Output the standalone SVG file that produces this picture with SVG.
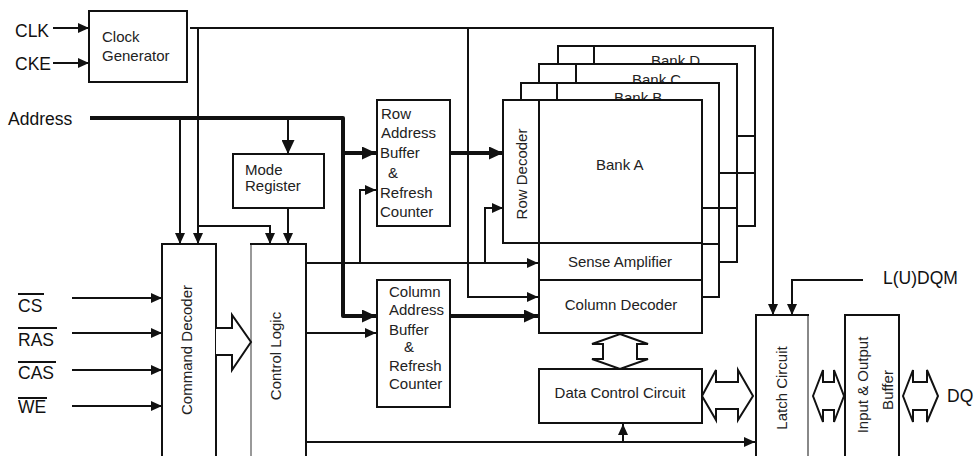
<svg xmlns="http://www.w3.org/2000/svg" width="977" height="456" viewBox="0 0 977 456">
<defs>
<style>
.box{fill:#fff;stroke:#111;stroke-width:2}
.ln{fill:none;stroke:#111;stroke-width:2}
.thk{fill:none;stroke:#111;stroke-width:4;stroke-linejoin:round}
.hol{fill:#fff;stroke:#111;stroke-width:2;stroke-linejoin:miter}
.t{font-family:"Liberation Sans",Arial,sans-serif;font-size:15px;fill:#222}
.lbl{font-family:"Liberation Sans",Arial,sans-serif;font-size:17.5px;fill:#111}
</style>
<marker id="ah" markerWidth="11" markerHeight="10" refX="11" refY="5" orient="auto" markerUnits="userSpaceOnUse"><path d="M0,0L11,5L0,10z" fill="#111"/></marker>
<marker id="ahb" markerWidth="14" markerHeight="13" refX="14" refY="6.5" orient="auto" markerUnits="userSpaceOnUse"><path d="M0,0L14,6.5L0,13z" fill="#111"/></marker>
</defs>
<rect width="977" height="456" fill="#fff"/>

<g id="labels">
<text class="lbl" x="15" y="37">CLK</text>
<text class="lbl" x="15" y="70">CKE</text>
<text class="lbl" x="8" y="125">Address</text>
<text class="lbl" x="18" y="312" font-size="18">CS</text>
<line class="ln" x1="18" y1="294" x2="44" y2="294" stroke-width="1.5"/>
<text class="lbl" x="18" y="346" font-size="18">RAS</text>
<line class="ln" x1="18" y1="328" x2="57" y2="328" stroke-width="1.5"/>
<text class="lbl" x="18" y="379" font-size="18">CAS</text>
<line class="ln" x1="18" y1="362" x2="56" y2="362" stroke-width="1.5"/>
<text class="lbl" x="18" y="413" font-size="18">WE</text>
<line class="ln" x1="18" y1="398" x2="47" y2="398" stroke-width="1.5"/>
<text class="lbl" x="883" y="284">L(U)DQM</text>
<text class="lbl" x="947" y="402">DQ</text>
</g>

<g id="clock-generator">
<rect class="box" x="89" y="11" width="98" height="71"/>
<text class="t" x="102" y="42">Clock</text>
<text class="t" x="102" y="61">Generator</text>
</g>

<g id="mode-register">
<rect class="box" x="233" y="154" width="91" height="54"/>
<text class="t" x="245" y="175">Mode</text>
<text class="t" x="245" y="191">Register</text>
</g>

<g id="command-decoder">
<rect class="box" x="162" y="244" width="54" height="220"/>
<text class="t" text-anchor="middle" transform="translate(192,350) rotate(-90)">Command Decoder</text>
</g>

<g id="control-logic">
<rect class="box" x="251" y="244" width="55" height="220"/>
<line x1="251" y1="245" x2="251" y2="456" stroke="#999" stroke-width="2"/>
<text class="t" text-anchor="middle" transform="translate(281,356) rotate(-90)">Control Logic</text>
</g>

<g id="row-address-buffer">
<rect class="box" x="377" y="100" width="73" height="126"/>
<text class="t" x="381" y="119">Row</text>
<text class="t" x="381" y="138">Address</text>
<text class="t" x="380" y="158">Buffer</text>
<text class="t" x="388" y="178">&amp;</text>
<text class="t" x="380" y="198">Refresh</text>
<text class="t" x="380" y="217">Counter</text>
</g>

<g id="column-address-buffer">
<rect class="box" x="377" y="280" width="73" height="127"/>
<text class="t" x="389" y="297">Column</text>
<text class="t" x="389" y="315">Address</text>
<text class="t" x="389" y="335">Buffer</text>
<text class="t" x="404" y="352">&amp;</text>
<text class="t" x="389" y="371">Refresh</text>
<text class="t" x="389" y="389">Counter</text>
</g>

<g id="bank-d">
<polygon class="box" points="558,46 755,46 755,226 737,226 737,64 558,64"/>
<line class="ln" x1="594" y1="46" x2="594" y2="64"/>
<line class="ln" x1="737" y1="136" x2="755" y2="136"/>
<line class="ln" x1="737" y1="173" x2="755" y2="173"/>
<text class="t" x="651" y="66">Bank D</text>
</g>

<g id="bank-c">
<polygon class="box" points="539,64 737,64 737,262 719,262 719,83 539,83"/>
<line class="ln" x1="576" y1="64" x2="576" y2="83"/>
<line class="ln" x1="719" y1="173" x2="737" y2="173"/>
<line class="ln" x1="719" y1="208" x2="737" y2="208"/>
<text class="t" x="632" y="85">Bank C</text>
</g>

<g id="bank-b">
<polygon class="box" points="521,83 719,83 719,297 702,297 702,100 521,100"/>
<line class="ln" x1="557" y1="83" x2="557" y2="100"/>
<line class="ln" x1="702" y1="208" x2="719" y2="208"/>
<line class="ln" x1="702" y1="244" x2="719" y2="244"/>
<text class="t" x="614" y="103">Bank B</text>
</g>

<g id="row-decoder">
<rect class="box" x="503" y="100" width="36" height="143"/>
<text class="t" text-anchor="middle" transform="translate(527,174) rotate(-90)">Row Decoder</text>
</g>

<g id="bank-a">
<rect class="box" x="539" y="100" width="163" height="143"/>
<text class="t" x="596" y="170">Bank A</text>
</g>

<g id="sense-amplifier">
<rect class="box" x="539" y="243" width="163" height="37"/>
<text class="t" x="620" y="267" text-anchor="middle">Sense Amplifier</text>
</g>

<g id="column-decoder">
<rect class="box" x="539" y="280" width="163" height="53"/>
<text class="t" x="621" y="310" text-anchor="middle">Column Decoder</text>
</g>

<g id="data-control-circuit">
<rect class="box" x="539" y="369" width="163" height="54"/>
<text class="t" x="620" y="398" text-anchor="middle">Data Control Circuit</text>
</g>

<g id="latch-circuit">
<rect class="box" x="756" y="315" width="52" height="150"/>
<line x1="808" y1="316" x2="808" y2="456" stroke="#888" stroke-width="2"/>
<text class="t" text-anchor="middle" transform="translate(787,388) rotate(-90)">Latch Circuit</text>
</g>

<g id="io-buffer">
<rect class="box" x="845" y="315" width="54" height="150"/>
<text class="t" text-anchor="middle" transform="translate(868,385) rotate(-90)">Input &amp; Output</text>
<text class="t" text-anchor="middle" transform="translate(893,390) rotate(-90)">Buffer</text>
</g>

<g id="connectors">
<line class="ln" x1="53" y1="28" x2="89" y2="28" marker-end="url(#ah)"/>
<line class="ln" x1="53" y1="63" x2="89" y2="63" marker-end="url(#ah)"/>
<polyline class="ln" points="190,28 773,28 773,315" marker-end="url(#ah)"/>
<line class="ln" x1="198" y1="28" x2="198" y2="244" marker-end="url(#ah)"/>
<polyline class="ln" points="198,226 270,226 270,244" marker-end="url(#ah)"/>
<polyline class="ln" points="468,28 468,297 538,297" marker-end="url(#ah)"/>
<polyline class="thk" points="90,118 343,118 343,316 376,316" marker-end="url(#ahb)"/>
<line class="thk" x1="343" y1="153" x2="376" y2="153" marker-end="url(#ahb)"/>
<line class="ln" x1="180" y1="118" x2="180" y2="244" marker-end="url(#ah)"/>
<line class="ln" x1="288" y1="118" x2="288" y2="154" stroke-width="3" marker-end="url(#ahb)"/>
<line class="ln" x1="288" y1="208" x2="288" y2="244" marker-end="url(#ah)"/>
<line class="ln" x1="306" y1="263" x2="538" y2="263" marker-end="url(#ah)"/>
<polyline class="ln" points="360,263 360,190 376,190" marker-end="url(#ah)"/>
<polyline class="ln" points="485,263 485,208 503,208" marker-end="url(#ah)"/>
<line class="ln" x1="306" y1="333" x2="376" y2="333" marker-end="url(#ah)"/>
<line class="ln" x1="306" y1="442" x2="755" y2="442" marker-end="url(#ah)"/>
<line class="ln" x1="623" y1="442" x2="623" y2="424" marker-end="url(#ah)"/>
<line class="thk" x1="450" y1="153" x2="503" y2="153" marker-end="url(#ahb)"/>
<line class="thk" x1="450" y1="316" x2="538" y2="316" marker-end="url(#ahb)"/>
<polyline class="ln" points="863,280 792,280 792,315" marker-end="url(#ah)"/>
<line class="ln" x1="72" y1="298" x2="162" y2="298" marker-end="url(#ah)"/>
<line class="ln" x1="72" y1="333" x2="162" y2="333" marker-end="url(#ah)"/>
<line class="ln" x1="72" y1="370" x2="162" y2="370" marker-end="url(#ah)"/>
<line class="ln" x1="72" y1="406" x2="162" y2="406" marker-end="url(#ah)"/>
<polyline class="hol" points="216,328 232,328 232,315 251,342 232,370 232,355 216,355"/>
<polygon class="hol" points="620,334 648,344 637,344 637,359 648,359 620,369 592,359 603,359 603,344 592,344"/>
<polygon class="hol" points="702,396 716,370 716,382 738,382 738,370 753,396 738,420 738,409 716,409 716,420"/>
<polygon class="hol" points="813,396 823,370 823,382 834,382 834,370 844,396 834,422 834,410 823,410 823,422"/>
<polygon class="hol" points="903,396 913,370 913,382 927,382 927,370 938,396 927,422 927,410 913,410 913,422"/>
</g>
</svg>
